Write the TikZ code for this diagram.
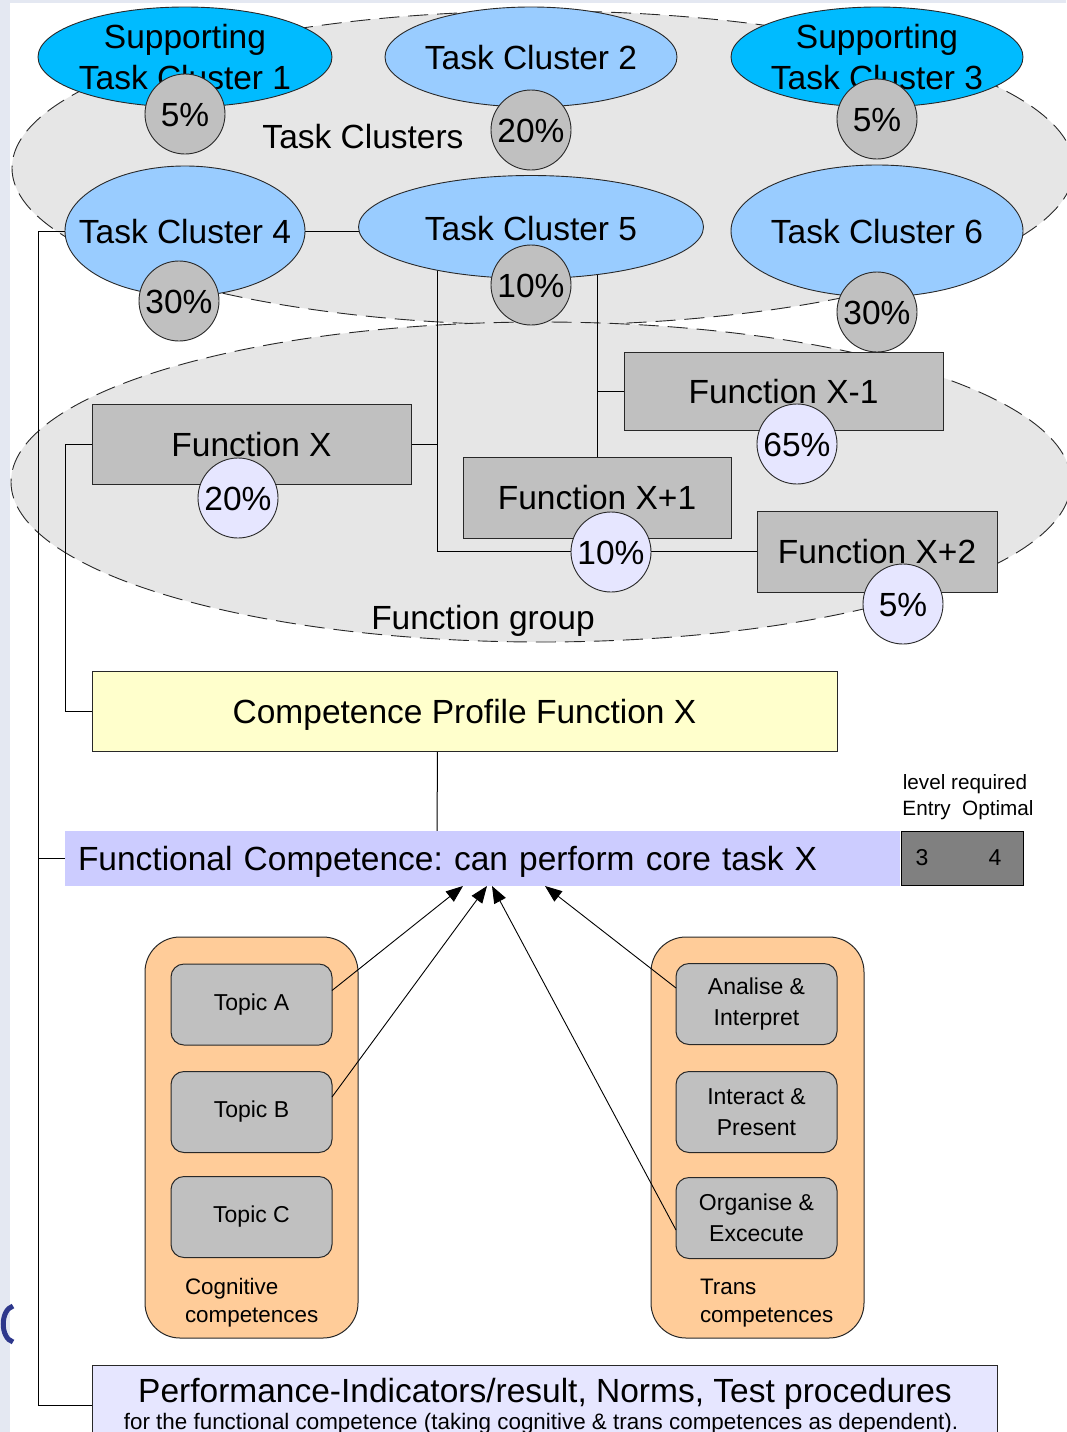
\documentclass[tikz,border=0pt]{standalone}
\usepackage{fontspec}
\setmainfont{Liberation Sans}
\usetikzlibrary{shapes.geometric,arrows.meta,calc}
\pgfdeclarelayer{bg}\pgfdeclarelayer{conn}\pgfsetlayers{bg,conn,main}
\frenchspacing

\definecolor{supblue}{RGB}{0,187,255}
\definecolor{tcblue}{RGB}{153,204,255}
\definecolor{pctgray}{RGB}{192,192,192}
\definecolor{grpgray}{RGB}{230,230,230}
\definecolor{lav}{RGB}{230,230,255}
\definecolor{cpyellow}{RGB}{255,255,204}
\definecolor{fcblue}{RGB}{204,204,255}
\definecolor{lvgray}{RGB}{128,128,128}
\definecolor{peach}{RGB}{255,204,153}
\definecolor{edgec}{RGB}{40,40,40}
\definecolor{slidebg}{RGB}{228,232,242}
\definecolor{logoblue}{RGB}{45,55,140}

\newcommand\bigf{\fontsize{33.5}{41}\selectfont}
\newcommand\midf{\fontsize{23}{31.5}\selectfont}
\newcommand\smlf{\fontsize{22.4}{28}\selectfont}
\newcommand\lvf{\fontsize{20.7}{26}\selectfont}

\begin{document}
\begin{tikzpicture}[x=1pt,y=-1pt,
 every node/.style={inner sep=0pt, outer sep=0pt},
 grp/.style={ellipse, fill=grpgray, draw=edgec, line width=0.9pt, dash pattern=on 20pt off 9pt},
 supell/.style={ellipse, fill=supblue, draw=edgec, line width=0.9pt},
 tcell/.style={ellipse, fill=tcblue, draw=edgec, line width=0.9pt},
 capc/.style={text height=24pt, text depth=0pt},
 pct/.style={circle, minimum size=80pt, fill=pctgray, draw=edgec, line width=0.9pt, font=\bigf, capc},
 fpct/.style={pct, fill=lav},
 func/.style={rectangle, fill=pctgray, draw=edgec, line width=1pt, font=\bigf, capc},
 lbl/.style={font=\bigf, align=center},
 conn/.style={draw=black, line width=1pt},
 arr/.style={draw=black, line width=0.9pt, -{Triangle[length=17pt,width=13pt]}},
 contain/.style={rectangle, rounded corners=35pt, fill=peach, draw=edgec, line width=1pt, minimum width=213pt, minimum height=401pt},
 topic/.style={rectangle, rounded corners=13pt, fill=pctgray, draw=edgec, line width=1pt, minimum width=161pt, minimum height=81pt, font=\midf, align=center},
 small/.style={font=\smlf, align=left, anchor=west},
]
\useasboundingbox (0,0) rectangle (1066,1432);

\begin{pgfonlayer}{bg}
\fill[white] (0,0) rectangle (1066,1432);
\fill[slidebg] (0,0) rectangle (10,1432);
\fill[slidebg] (0,0) rectangle (1066,3);
\draw[line width=5pt, logoblue] (13,1306) .. controls (0,1310) and (0,1338) .. (13,1342);
\node[grp, minimum width=1062pt, minimum height=314pt] (tcg) at (543,168) {};
\node[grp, minimum width=1060pt, minimum height=320pt] (fg) at (541,482) {};
\end{pgfonlayer}

% group labels
\node[lbl, capc] (tcgl) at (363,136) {Task Clusters};
\node[lbl, capc] (fgl) at (483,617) {Function group};

% task clusters
\node[supell, minimum width=294pt, minimum height=100pt] (stc1) at (185,57) {};
\node[lbl] (stc1t) at (185,57) {Supporting\\Task Cluster 1};
\node[tcell, minimum width=292pt, minimum height=100pt] (tc2) at (531,57) {};
\node[lbl, capc] (tc2t) at (531,57) {Task Cluster 2};
\node[supell, minimum width=292pt, minimum height=100pt] (stc3) at (877,57) {};
\node[lbl] (stc3t) at (877,57) {Supporting\\Task Cluster 3};
\node[tcell, minimum width=240pt, minimum height=130pt] (tc4) at (185,231) {};
\node[lbl, capc] (tc4t) at (185,231) {Task Cluster 4};
\node[tcell, minimum width=345pt, minimum height=103pt] (tc5) at (531,227) {};
\node[lbl, capc] (tc5t) at (531,228) {Task Cluster 5};
\node[tcell, minimum width=292pt, minimum height=132pt] (tc6) at (877,231) {};
\node[lbl, capc] (tc6t) at (877,231) {Task Cluster 6};

\node[pct] (p1) at (185,114) {5\%};
\node[pct] (p2) at (531,130) {20\%};
\node[pct] (p3) at (877,119) {5\%};
\node[pct] (p4) at (179,301) {30\%};
\node[pct] (p5) at (531,285) {10\%};
\node[pct] (p6) at (877,312) {30\%};

% functions
\node[func, minimum width=319pt, minimum height=80pt] (fx) at (251.5,444) {Function X};
\node[func, minimum width=319pt, minimum height=78pt] (fxm1) at (783.5,391) {Function X-1};
\node[func, minimum width=268pt, minimum height=81pt] (fxp1) at (597,497.5) {Function X+1};
\node[func, minimum width=240pt, minimum height=81pt] (fx2) at (877,551.5) {Function X+2};

\node[fpct] (fp1) at (238,498) {20\%};
\node[fpct] (fp2) at (797,444) {65\%};
\node[fpct] (fp3) at (611,552) {10\%};
\node[fpct] (fp4) at (903,604) {5\%};

% competence profile
\node[rectangle, fill=cpyellow, draw=edgec, line width=1pt, minimum width=745pt, minimum height=80pt, font=\bigf, capc] (cp) at (464.5,711) {Competence Profile Function X};

\node[rectangle, fill=fcblue, minimum width=835pt, minimum height=55pt, text width=809pt, inner xsep=13pt, align=left, font=\bigf, capc] (fc) at (482.5,858.5) {Functional Competence: can perform core task X};

\node[rectangle, fill=lvgray, draw=black, line width=1pt, minimum width=122pt, minimum height=54pt] (lv) at (962,858) {};
\node[font=\midf] (lv3) at (922,858) {3};
\node[font=\midf] (lv4) at (995,858) {4};
\node[font=\lvf] (lvt1) at (965,784) {level required};
\node[font=\lvf] (lvt2) at (968,810) {Entry\ \ Optimal};

% containers
\node[contain] (cog) at (251.5,1137.5) {};
\node[contain] (trn) at (757.5,1137.5) {};
\node[topic] (ta) at (251.5,1004.5) {Topic A};
\node[topic] (tb) at (251.5,1112) {Topic B};
\node[topic] (tcc) at (251.5,1217) {Topic C};
\node[topic] (ai) at (756.5,1004) {Analise \&\\Interpret};
\node[topic] (ip) at (756.5,1112) {Interact \&\\Present};
\node[topic] (oe) at (756.5,1218) {Organise \&\\Excecute};
\node[small] (cogl) at (185,1303) {Cognitive\\competences};
\node[small] (trnl) at (700,1303) {Trans\\competences};

% performance
\node[rectangle, fill=lav, draw=edgec, line width=1pt, minimum width=905pt, minimum height=80pt] (perf) at (544.5,1405) {};
\node[lbl, capc] (perft) at (545,1390) {Performance-Indicators/result, Norms, Test procedures};
\node[font=\smlf] (perfs) at (541,1424) {for the functional competence (taking cognitive \& trans competences as dependent).};

% connectors
\begin{pgfonlayer}{conn}
\draw[conn] (tc4.east) -- (tc4.east -| tc5.west);
\draw[conn] (tc4.west) -- ++(-27,0) |- (perf.west);
\draw[conn] (fc.west) -- ++(-27,0);
\draw[conn] (fx.west) -- ++(-27,0) |- (cp.west);
\draw[conn] ($(tc5.center)+(-94,0)$) |- (fx2.west);
\draw[conn] (fx.east) -- ++(26,0);
\draw[conn] (tc5.center -| fxp1.north) -- (fxp1.north);
\draw[conn] (fxm1.west) -- (fxm1.west -| fxp1.north);
\draw[conn] ($(cp.south)+(-27,0)$) -- ($(fc.north)+(-45.5,0)$);
\end{pgfonlayer}

% arrows
\draw[arr] ($(ta.east)+(0,-14)$) -- ($(fc.south)+(-19.5,0)$);
\draw[arr] ($(tb.east)+(0,-15)$) -- ($(fc.south)+(4.5,0)$);
\draw[arr] ($(oe.west)+(0,12)$) -- ($(fc.south)+(9.5,0)$);
\draw[arr] ($(ai.west)+(0,-16)$) -- ($(fc.south)+(62.5,0)$);
\end{tikzpicture}
\end{document}
